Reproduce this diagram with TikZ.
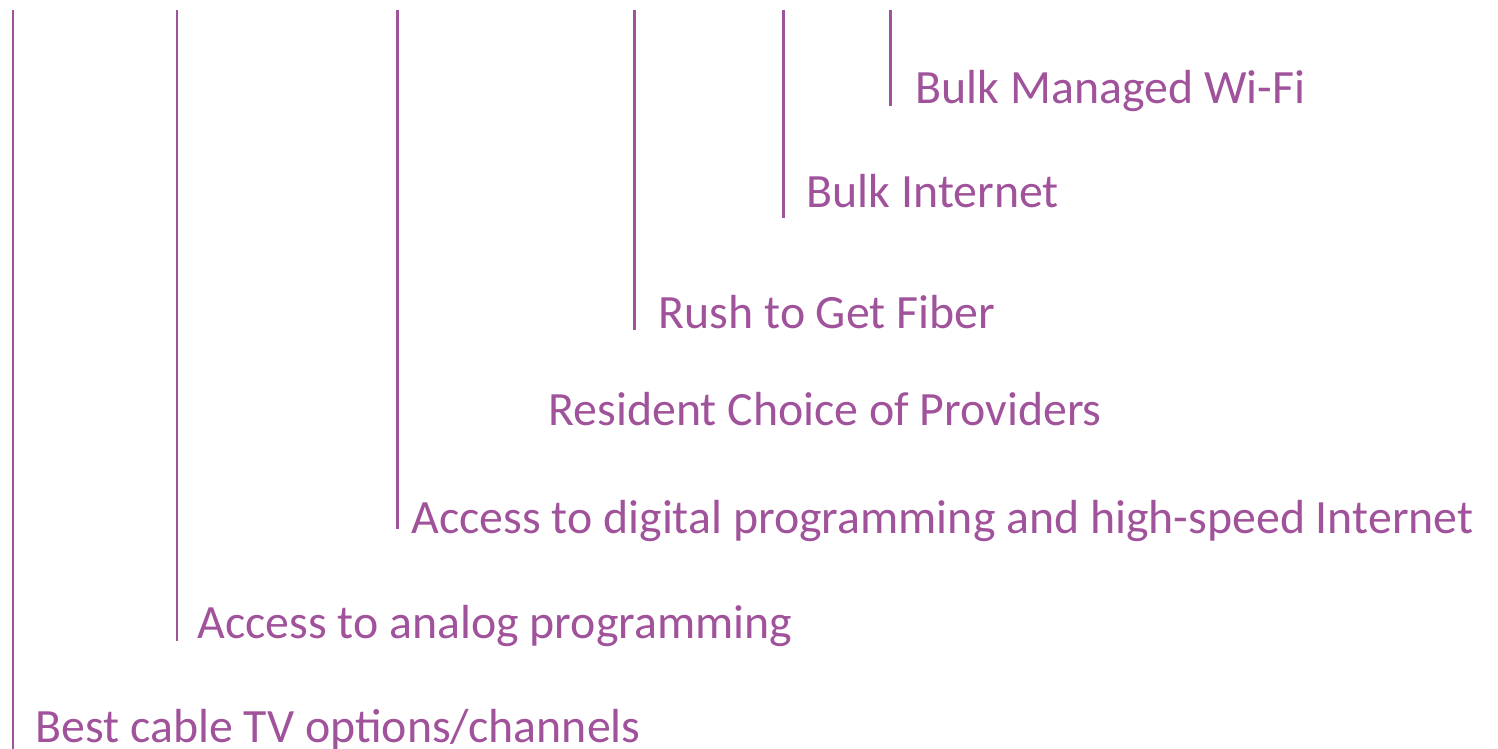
\documentclass[tikz,border=0pt]{standalone}
\usepackage{fontspec}
\setmainfont{Carlito}
\usepackage{tikz}
\definecolor{plum}{RGB}{160,82,155}
\tikzstyle{item}=[anchor=base west,inner sep=0pt,text=plum,font=\fontsize{13.6}{16}\selectfont]
\tikzstyle{bar} = [draw,plum,line width=0.85pt]

\begin{document}
\begin{tikzpicture}[x=0.01cm,y=-0.01cm]
				\useasboundingbox (0,0) rectangle (1498,749);
				% First we draw the labels, one step lower each time
				\foreach \pos/\name/\txt in {{(915,104)/wifi/Bulk Managed Wi-Fi},
										{(806,208)/inet/Bulk Internet},
										{(658,328)/fiber/Rush to Get Fiber},
										{(548,425)/choice/Resident Choice of Providers},
										{(411,533)/digital/Access to digital programming and high-speed Internet},
										{(197,638)/analog/Access to analog programming},
										{(35,742)/cable/{Best cable TV options/channels}}}
				\node[item] (\name) at \pos {\txt};
	
				% Then the bars hanging from the top edge
				\foreach \x/\y/\name in {13/760/cable, 177/641/analog, 397/529/digital,
										634/330/fiber, 783/218/inet, 890/106/wifi}
				{
				\coordinate (\name-top) at (\x,10);
				\coordinate (\name-end) at (\x,\y);
				\path[bar] (\name-top) -- (\name-end);
				}
			\end{tikzpicture}
\end{document}
